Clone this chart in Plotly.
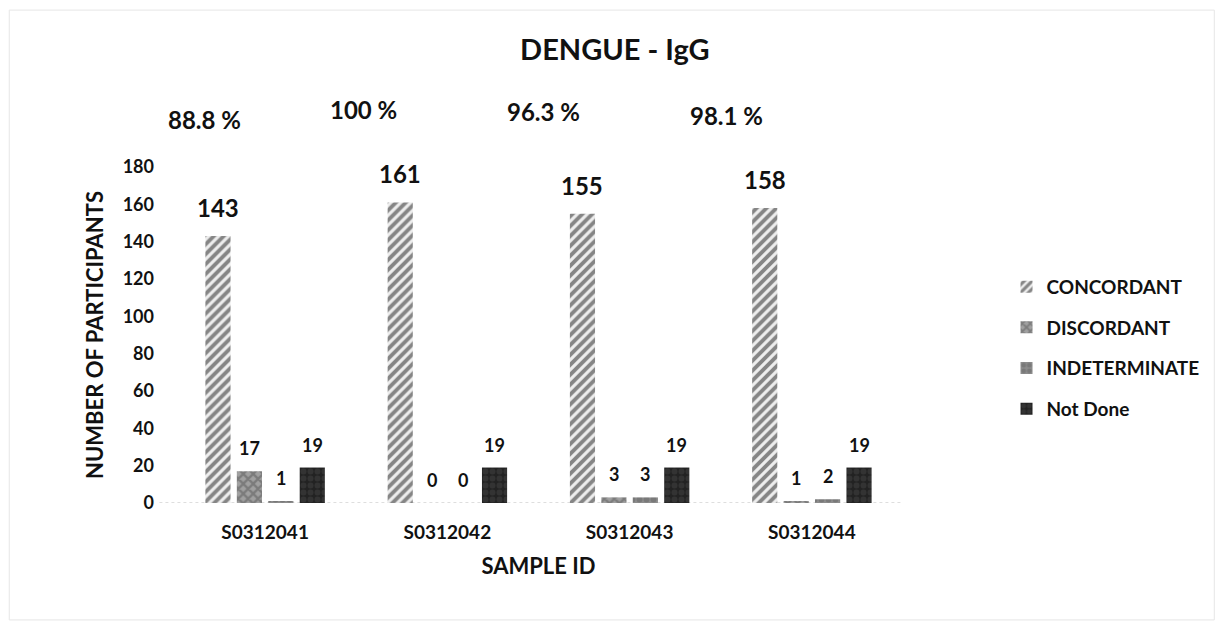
import plotly.graph_objects as go

samples = ["S0312041", "S0312042", "S0312043", "S0312044"]
concordant = [143, 161, 155, 158]
discordant = [17, 0, 3, 1]
indeterminate = [1, 0, 3, 2]
not_done = [19, 19, 19, 19]
percents = ["88.8 %", "100 %", "96.3 %", "98.1 %"]
y_ticks = list(range(0, 181, 20))

FONT = "Lato, Open Sans, sans-serif"
BARGAP = 0.31

series = [
    ("CONCORDANT", concordant, "#eeeeee", "/", "#1c1c1c", 24, 12),
    ("DISCORDANT", discordant, "#a0a0a0", "x", "#555555", 18, 10),
    ("INDETERMINATE", indeterminate, "#8c8c8c", ".", "#666666", 18, 10),
    ("Not Done", not_done, "#222222", ".", "#444444", 18, 10),
]

fig = go.Figure()
n = len(series)
slot = (1 - BARGAP) / n
for i, (name, vals, color, pattern, fg, size, ysh) in enumerate(series):
    fig.add_trace(go.Bar(
        name=name, x=samples, y=vals, legendgroup=name,
        marker=dict(color=color, line=dict(width=0),
                    pattern=dict(shape=pattern, fgcolor=fg, bgcolor=color, size=7, solidity=0.55)),
    ))
    # value labels above the bars
    for j, v in enumerate(vals):
        fig.add_annotation(x=j + (i - (n - 1) / 2) * slot, y=v, xref="x", yref="y",
                           text="<b>%d</b>" % v, showarrow=False, yanchor="bottom", yshift=ysh,
                           font=dict(size=size, color="#111", family=FONT))

# percent labels above each group (paper coordinates)
ann_x = [0.0425, 0.2606, 0.5075, 0.758]
ann_y = [1.140, 1.170, 1.164, 1.152]
for t, ax, ay in zip(percents, ann_x, ann_y):
    fig.add_annotation(x=ax, y=ay, xref="paper", yref="paper", text="<b>%s</b>" % t, showarrow=False,
                       xanchor="center", yanchor="middle",
                       font=dict(size=24, color="#111", family=FONT))

fig.update_layout(
    width=1226, height=624,
    paper_bgcolor="white", plot_bgcolor="white",
    margin=dict(l=166, r=331, t=159, b=129),
    barmode="group", bargap=BARGAP, bargroupgap=0.2,
    font=dict(family=FONT, color="#111"),
    title=dict(text="<b>DENGUE - IgG</b>", x=0.495, xanchor="center", y=0.933, yanchor="middle",
               font=dict(size=29, family=FONT, color="#111")),
    legend=dict(x=1.142, y=0.70, xanchor="left", yanchor="top", traceorder="grouped",
                tracegroupgap=13,
                font=dict(size=19, family=FONT, color="#111", weight="bold"), itemsizing="constant"),
    xaxis=dict(title=dict(text="<b>SAMPLE ID</b>", font=dict(size=22), standoff=16),
               tickfont=dict(size=19, weight="bold"), tickprefix="<b>", ticksuffix="</b>",
               showline=False, ticks="", ticklabelstandoff=16),
    yaxis=dict(title=dict(text="<b>NUMBER OF PARTICIPANTS</b>", font=dict(size=22), standoff=12),
               range=[0, 180], tickvals=y_ticks, tickfont=dict(size=18, weight="bold"),
               showgrid=False, zeroline=False, showline=False, ticklabelstandoff=19),
)

# dotted baseline
fig.add_shape(type="line", xref="paper", yref="y", x0=-0.02, x1=1.0, y0=0, y1=0,
              line=dict(color="#bdbdbd", width=1, dash="dot"), layer="below")

# faint outer border of the chart area
fig.add_shape(type="rect", xref="paper", yref="paper",
              x0=-0.226, x1=1.427, y0=-0.348, y1=1.467,
              line=dict(color="#e6e6e6", width=1), layer="below")

fig.write_html("out.html")
